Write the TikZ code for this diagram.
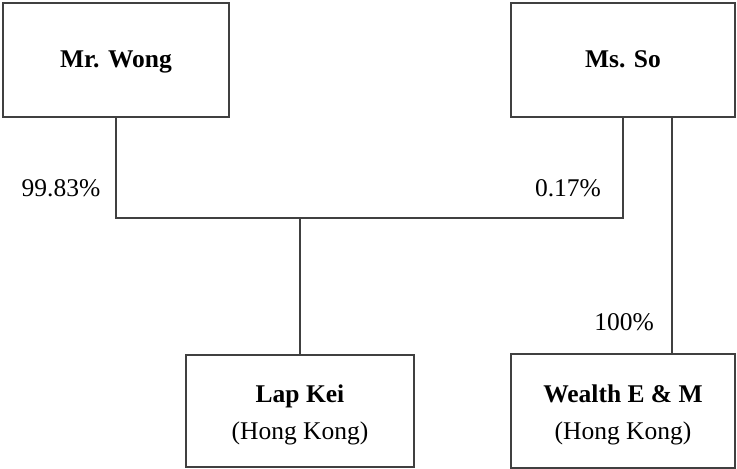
\documentclass[tikz,border=0pt]{standalone}
\usepackage{fontspec}
\setmainfont{Liberation Serif}
\begin{document}
\begin{tikzpicture}[x=1pt,y=-1pt,
  box/.style={draw=black!75,line width=1.2pt,inner sep=0pt,align=center,
    font=\fontsize{25.5}{31}\selectfont},
  onel/.style={text height=17pt,text depth=2pt},
  txt/.style={inner sep=0pt,align=center,font=\fontsize{25.5}{31}\selectfont},
  conn/.style={draw=black!75,line width=1.2pt},
  pct/.style={inner sep=0pt,font=\fontsize{25.5}{31}\selectfont}]
\useasboundingbox (0,0) rectangle (737,469);
\node[box,onel,minimum width=226pt,minimum height=114pt] (wong) at (116,60) {\textbf{Mr. Wong}};
\node[box,onel,minimum width=224pt,minimum height=114pt] (so) at (623,60) {\textbf{Ms. So}};
\node[box,minimum width=228pt,minimum height=112pt] (lapkei) at (300,411) {};
\node[txt] (lapkeitext) at (300,415) {\textbf{Lap Kei}\\[6pt](Hong Kong)};
\node[box,minimum width=224pt,minimum height=114pt] (wealth) at (623,411) {};
\node[txt] (wealthtext) at (623,415) {\textbf{Wealth E \& M}\\[6pt](Hong Kong)};
\coordinate (jn) at (300,218);
\draw[conn] (wong.south) |- (jn) -| (so.south);
\draw[conn] (jn) -- (lapkei.north);
\draw[conn] ([xshift=49pt]so.south) -- ([xshift=49pt]wealth.north);
\node[pct] (p1) at (61,188) {99.83\%};
\node[pct] (p2) at (568,188) {0.17\%};
\node[pct] (p3) at (624,322) {100\%};
\end{tikzpicture}
\end{document}
